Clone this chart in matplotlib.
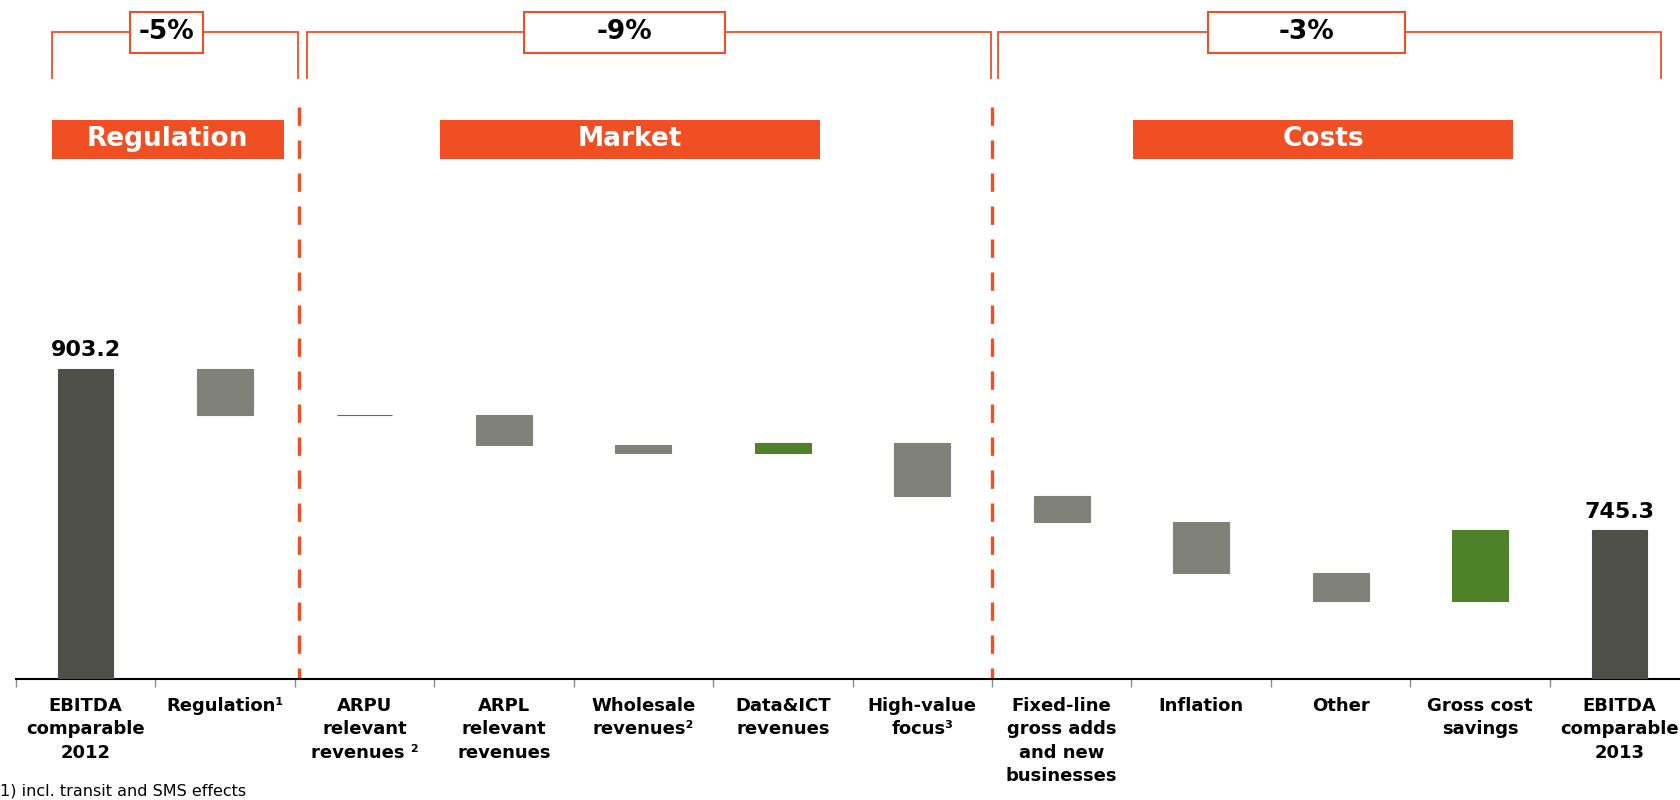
import matplotlib
matplotlib.use('Agg')
import matplotlib.pyplot as plt
import matplotlib.transforms as mtransforms
from matplotlib.patches import Rectangle

plt.rcParams['font.family'] = ['DejaVu Sans']

categories = [
    'EBITDA\ncomparable\n2012',
    'Regulation\u00b9',
    'ARPU\nrelevant\nrevenues \u00b2',
    'ARPL\nrelevant\nrevenues',
    'Wholesale\nrevenues\u00b2',
    'Data&ICT\nrevenues',
    'High-value\nfocus\u00b3',
    'Fixed-line\ngross adds\nand new\nbusinesses',
    'Inflation',
    'Other',
    'Gross cost\nsavings',
    'EBITDA\ncomparable\n2013',
]
start_value = 903.2
end_value = 745.3
changes = [-45.7, 0.3, -28.9, -8.4, 10.3, -52.0, -25.5, -50.3, -27.2, 69.5]

group_names = ['Regulation', 'Market', 'Costs']
group_changes = ['-5%', '-9%', '-3%']
footnote = '1) incl. transit and SMS effects'

ORANGE = '#F04E23'
TOTAL = '#4F4F49'
NEG = '#80827A'
POS = '#4E8229'


def waterfall(ax):
    bottoms, heights, colors = [], [], []
    bottoms.append(0)
    heights.append(start_value)
    colors.append(TOTAL)
    level = start_value
    for c in changes:
        if c < 0:
            bottoms.append(level + c)
            heights.append(-c)
            colors.append(NEG)
        else:
            bottoms.append(level)
            heights.append(c)
            colors.append(POS)
        level += c
    bottoms.append(0)
    heights.append(end_value)
    colors.append(TOTAL)

    x = range(len(categories))
    ax.bar(x, heights, bottom=bottoms, width=0.4, color=colors,
           edgecolor=colors, linewidth=0.8, zorder=3)

    for i, v in [(0, start_value), (len(categories) - 1, end_value)]:
        ax.annotate(f'{v:.1f}', (i, v), xytext=(0, 6), textcoords='offset points',
                    ha='center', va='bottom', fontsize=16, fontweight='bold')


def headers(ax):
    tr = mtransforms.blended_transform_factory(ax.transData, ax.transAxes)
    # bracket spans, boxes and header bars (x in category units)
    spans = [(-0.244, 1.527), (1.586, 6.493), (6.543, 11.297)]
    boxes = [(0.318, 0.842), (3.144, 4.584), (8.049, 9.462)]
    bars = [(-0.244, 1.423), (2.542, 5.265), (7.512, 10.237)]
    y_line, y_foot = 0.9528, 0.885
    y_box0, y_box1 = 0.9219, 0.983
    y_bar0, y_bar1 = 0.7657, 0.8231

    for (l, r), (bl, br), (hl, hr), name, pct in zip(spans, boxes, bars,
                                                     group_names, group_changes):
        ax.plot([l, l, bl], [y_foot, y_line, y_line], color=ORANGE, lw=1.3,
                transform=tr, clip_on=False, solid_joinstyle='miter')
        ax.plot([br, r, r], [y_line, y_line, y_foot], color=ORANGE, lw=1.3,
                transform=tr, clip_on=False, solid_joinstyle='miter')
        ax.add_patch(Rectangle((bl, y_box0), br - bl, y_box1 - y_box0,
                               facecolor='white', edgecolor=ORANGE, lw=1.5,
                               transform=tr, clip_on=False))
        ax.text((bl + br) / 2, (y_box0 + y_box1) / 2, pct, transform=tr,
                ha='center', va='center', fontsize=19, fontweight='bold')
        ax.add_patch(Rectangle((hl, y_bar0), hr - hl, y_bar1 - y_bar0,
                               facecolor=ORANGE, edgecolor='none',
                               transform=tr, clip_on=False))
        ax.text((hl + hr) / 2, (y_bar0 + y_bar1) / 2, name, transform=tr,
                ha='center', va='center', fontsize=19, fontweight='bold',
                color='white')

    # dashed separators between the groups
    for xs in [1.533, 6.5]:
        ax.plot([xs, xs], [0.843, 0.0], color=ORANGE, lw=2.4,
                dashes=(5.5, 4.4), transform=tr, clip_on=False, zorder=2)


def main():
    fig = plt.figure(figsize=(16.81, 8), dpi=100)
    ax = fig.add_axes([15.8 / 1681, 121.5 / 800, 12 * 139.46 / 1681, 678.5 / 800])
    waterfall(ax)

    ax.set_xlim(-0.5, len(categories) - 0.5)
    ax.set_ylim(600, 600 + 678.5 * 0.979)
    for s in ['top', 'right', 'left']:
        ax.spines[s].set_visible(False)
    ax.spines['bottom'].set_linewidth(1.5)
    ax.set_yticks([])

    ax.set_xticks(range(len(categories)))
    ax.set_xticklabels(categories, fontsize=13, fontweight='bold', linespacing=1.4)
    ax.set_xticks([i - 0.5 for i in range(len(categories) + 1)], minor=True)
    ax.tick_params(axis='x', which='major', length=0, pad=13)
    ax.tick_params(axis='x', which='minor', length=6, width=1, color='#8a8a8a',
                   direction='out')

    headers(ax)

    fig.text(0.0, 1.5 / 800, footnote, ha='left', va='bottom', fontsize=11.5)

    fig.savefig('out.png', dpi=100)
    plt.close(fig)


if __name__ == '__main__':
    main()
